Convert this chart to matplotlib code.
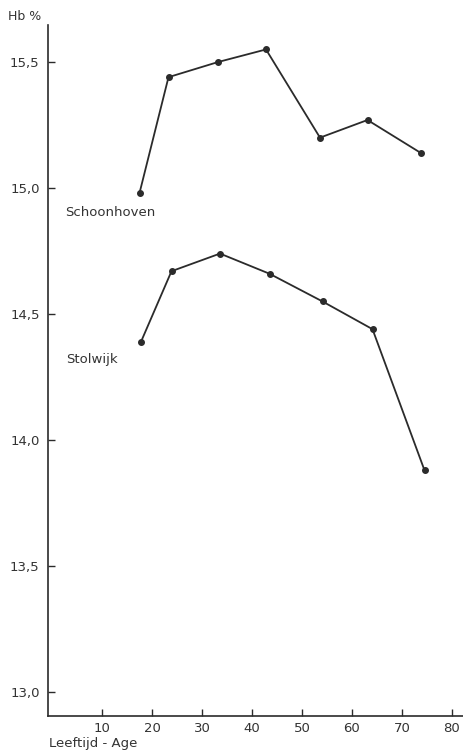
import matplotlib
matplotlib.use("Agg")
import matplotlib.pyplot as plt
from matplotlib.ticker import FuncFormatter

# Mean haemoglobin (Hb %) by age group for two Dutch towns
age_schoonhoven = [17.5, 23.3, 33.2, 42.8, 53.6, 63.1, 73.7]
hb_schoonhoven = [14.98, 15.44, 15.50, 15.55, 15.20, 15.27, 15.14]

age_stolwijk = [17.8, 23.9, 33.6, 43.5, 54.1, 64.1, 74.5]
hb_stolwijk = [14.39, 14.67, 14.74, 14.66, 14.55, 14.44, 13.88]

x_ticks = [10, 20, 30, 40, 50, 60, 70, 80]
y_ticks = [13.0, 13.5, 14.0, 14.5, 15.0, 15.5]

ink = "#2b2b2b"
plt.rcParams["font.family"] = ["DejaVu Sans"]

fig = plt.figure(figsize=(4.63, 7.5), dpi=100)
ax = fig.add_axes([48 / 463, 34 / 750, 415 / 463, 691 / 750])

ax.plot(age_schoonhoven, hb_schoonhoven, color=ink, lw=1.3,
        marker="o", ms=4, mfc=ink, mec=ink, clip_on=False)
ax.plot(age_stolwijk, hb_stolwijk, color=ink, lw=1.3,
        marker="o", ms=4, mfc=ink, mec=ink, clip_on=False)

ax.set_xlim(-0.8, 82.2)
ax.set_ylim(12.905, 15.647)

for side in ("top", "right"):
    ax.spines[side].set_visible(False)
for side in ("left", "bottom"):
    ax.spines[side].set_color(ink)
    ax.spines[side].set_linewidth(1.2)

ax.set_xticks(x_ticks)
ax.set_yticks(y_ticks)
ax.yaxis.set_major_formatter(FuncFormatter(lambda v, p: f"{v:.1f}".replace(".", ",")))
ax.tick_params(axis="both", direction="in", length=5, width=1.0, color=ink,
               labelsize=9.5, labelcolor="#333333")
ax.tick_params(axis="y", pad=6)
ax.tick_params(axis="x", pad=4)

fig.text(65 / 463, 1 - 212 / 750, "Schoonhoven", ha="left", va="center",
         fontsize=9.5, color="#333333")
fig.text(66 / 463, 1 - 359 / 750, "Stolwijk", ha="left", va="center",
         fontsize=9.5, color="#333333")
fig.text(8 / 463, 1 - 17 / 750, "Hb %", ha="left", va="center",
         fontsize=9, color="#333333")
fig.text(49 / 463, 1 - 744 / 750, "Leeftijd - Age", ha="left", va="center",
         fontsize=9.5, color="#333333")

fig.savefig("out.png", dpi=100, facecolor="white")
